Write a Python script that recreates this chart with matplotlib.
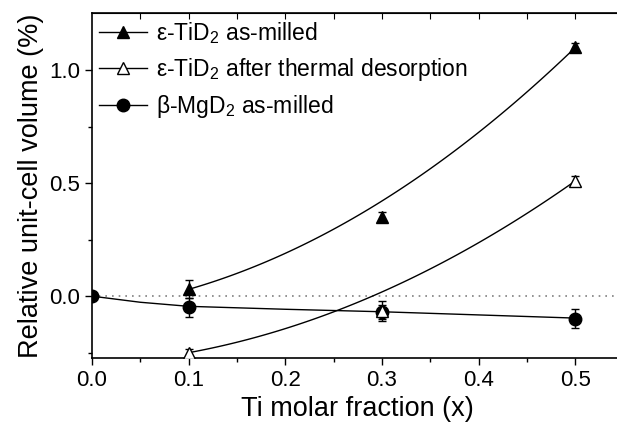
import numpy as np
import matplotlib.pyplot as plt
from matplotlib.lines import Line2D

plt.rcParams['font.family'] = ['Liberation Sans', 'DejaVu Sans']
plt.rcParams['mathtext.fontset'] = 'custom'
plt.rcParams['mathtext.rm'] = 'Liberation Sans'

# measured points
x_ti = [0.1, 0.3, 0.5]
tid2_milled = [0.03, 0.35, 1.10]
tid2_milled_err = [0.04, 0.02, 0.02]
tid2_desorbed = [-0.25, -0.065, 0.51]
tid2_desorbed_err = [0.015, 0.045, 0.02]

x_mg = [0.0, 0.1, 0.3, 0.5]
mgd2_milled = [0.0, -0.05, -0.07, -0.10]
mgd2_milled_err = [0.0, 0.04, 0.03, 0.042]

# fitted curves, values
fit_x_ti = [0.1, 0.22, 0.5]
fit_tid2_milled = [0.03, 0.23, 1.10]
fit_x_des = [0.1, 0.29, 0.5]
fit_tid2_desorbed = [-0.25, 0.0, 0.51]
fit_x_mg = [0.0, 0.05, 0.1, 0.2, 0.3, 0.4, 0.5]
fit_mgd2 = [0.0, -0.027, -0.045, -0.058, -0.069, -0.083, -0.097]

labels = ['ε-TiD$_2$ as-milled',
          'ε-TiD$_2$ after thermal desorption',
          'β-MgD$_2$ as-milled']

fig = plt.figure(figsize=(6.17, 4.32), dpi=100)
ax = fig.add_axes([0.149, 0.171, 0.862, 0.799])

ax.axhline(0, color='gray', ls=(0, (1, 3)), lw=1.2, zorder=1)

# fit lines
xs = np.linspace(0.1, 0.5, 100)
p1 = np.polyfit(fit_x_ti, fit_tid2_milled, 2)
p2 = np.polyfit(fit_x_des, fit_tid2_desorbed, 2)
ax.plot(xs, np.polyval(p1, xs), color='black', lw=1.0)
ax.plot(xs, np.polyval(p2, xs), color='black', lw=1.0)
ax.plot(fit_x_mg, fit_mgd2, color='black', lw=1.0)

ms = 9
ax.errorbar(x_ti, tid2_milled, yerr=tid2_milled_err, fmt='^', color='black',
            ms=ms, capsize=3, elinewidth=1, capthick=1, zorder=3)
ax.errorbar(x_ti, tid2_desorbed, yerr=tid2_desorbed_err, fmt='^', color='black',
            mfc='white', ms=ms, capsize=3, elinewidth=1, capthick=1, zorder=4)
ax.errorbar(x_mg, mgd2_milled, yerr=mgd2_milled_err, fmt='o', color='black',
            ms=ms, capsize=3, elinewidth=1, capthick=1, zorder=3)

ax.set_xlim(0, 0.55)
ax.set_ylim(-0.274, 1.252)
ax.set_xticks([0.0, 0.1, 0.2, 0.3, 0.4, 0.5])
ax.set_xticks(np.arange(0.05, 0.55, 0.1), minor=True)
ax.set_yticks([0.0, 0.5, 1.0])
ax.set_yticks([-0.25, 0.25, 0.75], minor=True)
ax.tick_params(which='major', direction='out', length=5, width=1, labelsize=16)
ax.tick_params(which='minor', direction='out', length=3, width=1)
ax.spines['right'].set_visible(False)
for s in ax.spines.values():
    s.set_linewidth(1.2)

top = ax.secondary_xaxis('top')
top.set_xticks(np.arange(0.05, 0.55, 0.05))
top.tick_params(direction='in', length=4, labeltop=False)
top.set_xticklabels([])

ax.set_xlabel('Ti molar fraction (x)', fontsize=19.5, labelpad=4)
ax.set_ylabel('Relative unit-cell volume (%)', fontsize=19.5, labelpad=4)

handles = [
    Line2D([], [], color='black', lw=1, marker='^', ms=ms),
    Line2D([], [], color='black', lw=1, marker='^', ms=ms, mfc='white'),
    Line2D([], [], color='black', lw=1, marker='o', ms=ms),
]
ax.legend(handles, labels, loc='upper left', frameon=False, fontsize=16.5,
          handlelength=2.1, handletextpad=0.4, labelspacing=0.45,
          borderpad=0.0, borderaxespad=0.3, bbox_to_anchor=(0.0, 1.0))

fig.savefig('out.png', dpi=100)
